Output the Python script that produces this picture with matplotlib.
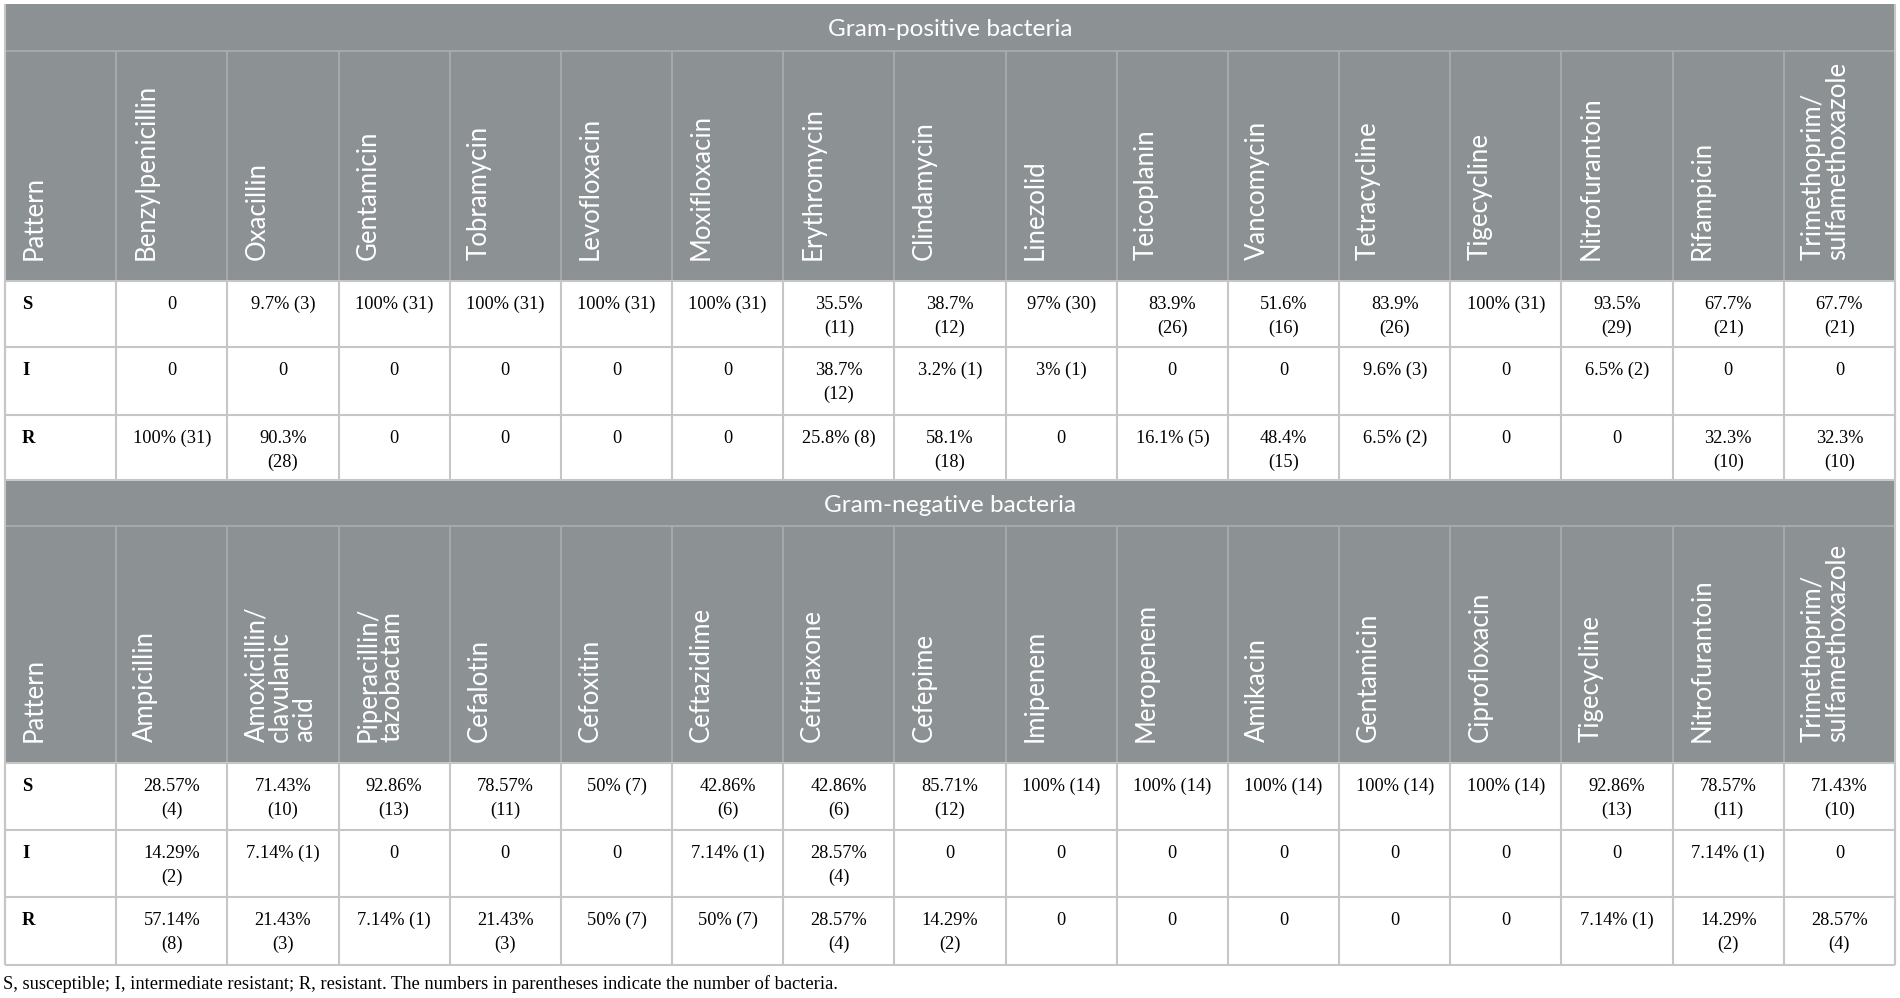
import matplotlib.pyplot as plt
from matplotlib.patches import Rectangle

# ---- data -------------------------------------------------------------
patterns = ["S", "I", "R"]

gp_title = "Gram-positive bacteria"
gp_drugs = ["Benzylpenicillin", "Oxacillin", "Gentamicin", "Tobramycin",
            "Levofloxacin", "Moxifloxacin", "Erythromycin", "Clindamycin",
            "Linezolid", "Teicoplanin", "Vancomycin", "Tetracycline",
            "Tigecycline", "Nitrofurantoin", "Rifampicin",
            "Trimethoprim/\nsulfamethoxazole"]
gp_S = ["0", "9.7% (3)", "100% (31)", "100% (31)", "100% (31)", "100% (31)",
        "35.5% (11)", "38.7% (12)", "97% (30)", "83.9% (26)", "51.6% (16)",
        "83.9% (26)", "100% (31)", "93.5% (29)", "67.7% (21)", "67.7% (21)"]
gp_I = ["0", "0", "0", "0", "0", "0", "38.7% (12)", "3.2% (1)", "3% (1)",
        "0", "0", "9.6% (3)", "0", "6.5% (2)", "0", "0"]
gp_R = ["100% (31)", "90.3% (28)", "0", "0", "0", "0", "25.8% (8)",
        "58.1% (18)", "0", "16.1% (5)", "48.4% (15)", "6.5% (2)", "0", "0",
        "32.3% (10)", "32.3% (10)"]

gn_title = "Gram-negative bacteria"
gn_drugs = ["Ampicillin", "Amoxicillin/\nclavulanic\nacid",
            "Piperacillin/\ntazobactam", "Cefalotin", "Cefoxitin",
            "Ceftazidime", "Ceftriaxone", "Cefepime", "Imipenem", "Meropenem",
            "Amikacin", "Gentamicin", "Ciprofloxacin", "Tigecycline",
            "Nitrofurantoin", "Trimethoprim/\nsulfamethoxazole"]
gn_S = ["28.57% (4)", "71.43% (10)", "92.86% (13)", "78.57% (11)", "50% (7)",
        "42.86% (6)", "42.86% (6)", "85.71% (12)", "100% (14)", "100% (14)",
        "100% (14)", "100% (14)", "100% (14)", "92.86% (13)", "78.57% (11)",
        "71.43% (10)"]
gn_I = ["14.29% (2)", "7.14% (1)", "0", "0", "0", "7.14% (1)", "28.57% (4)",
        "0", "0", "0", "0", "0", "0", "0", "7.14% (1)", "0"]
gn_R = ["57.14% (8)", "21.43% (3)", "7.14% (1)", "21.43% (3)", "50% (7)",
        "50% (7)", "28.57% (4)", "14.29% (2)", "0", "0", "0", "0", "0",
        "7.14% (1)", "14.29% (2)", "28.57% (4)"]

footnote = ("S, susceptible; I, intermediate resistant; R, resistant. "
            "The numbers in parentheses indicate the number of bacteria.")

# ---- layout (pixels) --------------------------------------------------
W, H = 1900, 998
LEFT, RIGHT = 5, 1895
GRAY = "#8c9194"
GRID_DARK = "#a8acaf"
GRID_LIGHT = "#c6c6c6"
SANS = ["Lato", "DejaVu Sans"]
SERIF = ["Liberation Serif", "DejaVu Serif"]

# section: (title, drugs, rows, top, band height, header height, row heights)
sections = [
    (gp_title, gp_drugs, [gp_S, gp_I, gp_R], 4, 47, 230, [66, 68, 65]),
    (gn_title, gn_drugs, [gn_S, gn_I, gn_R], 480, 46, 237, [67, 67, 68]),
]

fig = plt.figure(figsize=(W / 100, H / 100), dpi=100)
ax = fig.add_axes([0, 0, 1, 1])
ax.set_xlim(0, W)
ax.set_ylim(H, 0)
ax.axis("off")


def wrap(s):
    # long cells break before the count in parentheses
    if len(s) > 9 and " " in s:
        return s.replace(" ", "\n", 1)
    return s


for title, drugs, rows, top, band_h, head_h, row_hs in sections:
    ncol = len(drugs) + 1
    cw = (RIGHT - LEFT) / ncol
    col_x = [LEFT + i * cw for i in range(ncol + 1)]
    head_top = top + band_h
    head_bot = head_top + head_h
    row_tops = [head_bot]
    for h in row_hs:
        row_tops.append(row_tops[-1] + h)
    bottom = row_tops[-1]

    # gray band + header
    ax.add_patch(Rectangle((LEFT, top), RIGHT - LEFT, head_bot - top,
                           facecolor=GRAY, edgecolor="none", zorder=1))
    ax.text((LEFT + RIGHT) / 2, top + band_h / 2 + 2, title, color="white",
            family=SANS, fontsize=17.6, ha="center", va="center", zorder=3)

    # header grid
    ax.hlines(head_top, LEFT, RIGHT, color=GRID_DARK, lw=1.3, zorder=2)
    ax.vlines(col_x[1:-1], head_top, head_bot, color=GRID_DARK, lw=1.3,
              zorder=2)

    # rotated column headers
    labels = ["Pattern"] + drugs
    for c, lab in enumerate(labels):
        for k, line in enumerate(lab.split("\n")):
            ax.text(col_x[c] + 37 + k * 24, head_bot - 21, line,
                    color="white", family=SANS, fontsize=18.5,
                    rotation=90, rotation_mode="anchor",
                    ha="left", va="baseline", zorder=3)

    # data grid
    ax.hlines(row_tops, LEFT, RIGHT, color=GRID_LIGHT, lw=1.5, zorder=2)
    ax.vlines(col_x, head_bot, bottom, color=GRID_LIGHT, lw=1.5, zorder=2)

    # data cells
    for r, (pat, vals) in enumerate(zip(patterns, rows)):
        base = row_tops[r] + 28
        ax.text(col_x[0] + 17, base, pat, family=SERIF, fontsize=13.4,
                fontweight="bold", ha="left", va="baseline", zorder=3)
        for c, v in enumerate(vals):
            cx = (col_x[c + 1] + col_x[c + 2]) / 2
            for k, line in enumerate(wrap(v).split("\n")):
                ax.text(cx, base + k * 24, line, family=SERIF, fontsize=13.2,
                        ha="center", va="baseline", zorder=3)

# outer border
ax.vlines([LEFT, RIGHT], 4, 965, color=GRID_LIGHT, lw=1.5, zorder=2)

ax.text(LEFT - 2, 989, footnote, family=SERIF, fontsize=13.3,
        ha="left", va="baseline")

fig.savefig("out.png", dpi=100)
